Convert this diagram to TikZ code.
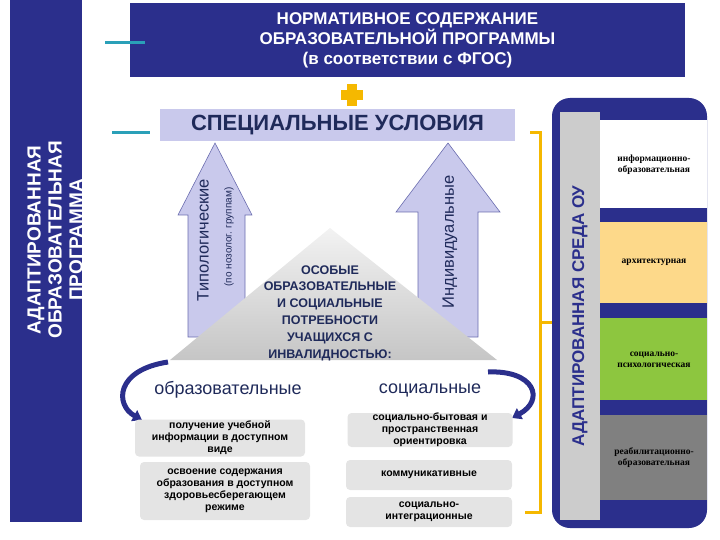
\documentclass[tikz,border=0pt]{standalone}
\usepackage{fontspec}
\setmainfont{Liberation Sans}
\newfontfamily\serifb{Liberation Serif}
\usetikzlibrary{arrows.meta,shapes.arrows}
\definecolor{navy}{HTML}{2B2F8C}
\definecolor{dnavy}{HTML}{1F2A5A}
\definecolor{lav}{HTML}{C9C9EC}
\definecolor{teal}{HTML}{2AA0B8}
\definecolor{gold}{HTML}{F5B800}
\definecolor{boxg}{HTML}{E4E4E4}
\definecolor{sgreen}{HTML}{8DC63F}
\definecolor{syel}{HTML}{FDD98A}
\begin{document}
\begin{tikzpicture}[x=1pt,y=-1pt,
  gbox/.style={fill=boxg,rounded corners=4pt,text=black,font=\bfseries\fontsize{10.5}{12}\selectfont,align=center,inner sep=0pt},
  sect/.style={font=\serifb\bfseries\fontsize{9.5}{11}\selectfont,align=center,text=black},
  upar/.style={fill=lav,draw=navy!70,line width=0.6pt}]
\useasboundingbox (0,0) rectangle (720,540);
% left panel
\fill[navy] (10,0) rectangle (82,522);
\node[rotate=90,text=white,font=\bfseries\fontsize{19}{21}\selectfont,align=center] (ltxt) at (55,240) {АДАПТИРОВАННАЯ\\ОБРАЗОВАТЕЛЬНАЯ\\ПРОГРАММА};
% top banner
\node[fill=navy,minimum width=555,minimum height=74,inner sep=0pt,text=white,font=\bfseries\fontsize{17}{20}\selectfont,align=center] (top) at (407.5,40) {НОРМАТИВНОЕ СОДЕРЖАНИЕ\\ОБРАЗОВАТЕЛЬНОЙ ПРОГРАММЫ\\(в соответствии с ФГОС)};
\coordinate (c1a) at (105,43); \coordinate (c1b) at (145,43);
\draw[teal,line width=3pt] (c1a) -- (c1b);
\coordinate (c2a) at (112,133); \coordinate (c2b) at (150,133);
\draw[teal,line width=3pt] (c2a) -- (c2b);
% plus
\fill[gold] (347,84) rectangle (357,106);
\fill[gold] (341,90) rectangle (363,100);
% special conditions
\node[fill=lav,minimum width=355,minimum height=32,inner sep=0pt,text=dnavy,font=\bfseries\fontsize{22}{24}\selectfont] (spec) at (337.5,125) {СПЕЦИАЛЬНЫЕ УСЛОВИЯ};
% up arrows
\draw[upar] (188,337) -- (188,215) -- (178,215) -- (215,143) -- (252,215) -- (245,215) -- (245,337) -- cycle;
\draw[upar] (418,337) -- (418,212) -- (396,212) -- (448,143) -- (500,212) -- (478,212) -- (478,337) -- cycle;
\node[rotate=90,text=dnavy,font=\fontsize{16.5}{18}\selectfont] (typ) at (203,240) {Типологические};
\node[rotate=90,text=dnavy,font=\fontsize{10}{11}\selectfont] (noz) at (229,237) {(по нозолог. группам)};
\node[rotate=90,text=dnavy,font=\fontsize{16.5}{18}\selectfont] (ind) at (450,242) {Индивидуальные};
% triangle
\shade[top color=white!90!gray,bottom color=gray!45] (330,228) -- (497,360) -- (170,360) -- cycle;
\node[text=dnavy,font=\bfseries\fontsize{12.5}{16.8}\selectfont,align=center] (needs) at (330,313) {ОСОБЫЕ\\ОБРАЗОВАТЕЛЬНЫЕ\\И СОЦИАЛЬНЫЕ\\ПОТРЕБНОСТИ\\УЧАЩИХСЯ С\\ИНВАЛИДНОСТЬЮ:};
\node[text=dnavy,font=\fontsize{18}{20}\selectfont] (obr) at (228,390) {образовательные};
\node[text=dnavy,font=\fontsize{18}{20}\selectfont] (soc) at (430,390) {социальные};
\coordinate (la) at (168,362); \coordinate (lb) at (142,420);
\draw[navy,line width=5pt,-{Triangle[length=9pt,width=12pt]}] (la) .. controls (115,370) and (115,405) .. (lb);
\coordinate (ra) at (488,372); \coordinate (rb) at (512,418);
\draw[navy,line width=5pt,-{Triangle[length=9pt,width=12pt]}] (ra) .. controls (535,370) and (545,400) .. (rb);
% boxes
\node[gbox,minimum width=170,minimum height=37] (b1) at (220,438) {получение учебной\\информации в доступном\\виде};
\node[gbox,minimum width=170,minimum height=58] (b2) at (225,491) {освоение содержания\\образования в доступном\\здоровьесберегающем\\режиме};
\node[gbox,minimum width=165,minimum height=34] (b3) at (430,430) {социально-бытовая и\\пространственная\\ориентировка};
\node[gbox,minimum width=166,minimum height=30] (b4) at (429,475) {коммуникативные};
\node[gbox,minimum width=166,minimum height=30] (b5) at (429,512) {социально-\\интеграционные};
% gold bracket
\draw[gold,line width=3pt] (530,133) -- (540,133) -- (540,512) -- (525,512);
\coordinate (gm) at (540,322); \coordinate (gn) at (560,322);
\draw[gold,line width=3pt] (gm) -- (gn);
% right panel
\fill[navy,rounded corners=18pt] (552,98) rectangle (707,528);
\fill[gray!40] (560,112) rectangle (600,520);
\node[rotate=90,text=navy,font=\bfseries\fontsize{17}{18}\selectfont] (sreda) at (580,316) {АДАПТИРОВАННАЯ СРЕДА ОУ};
\fill[white] (600,120) rectangle (707,208);
\fill[syel] (600,222) rectangle (707,303);
\fill[sgreen] (600,318) rectangle (707,400);
\fill[gray] (600,415) rectangle (707,500);
\node[sect] (s1) at (654,165) {информационно-\\образовательная};
\node[sect] (s2) at (654,262) {архитектурная};
\node[sect] (s3) at (654,360) {социально-\\психологическая};
\node[sect] (s4) at (654,458) {реабилитационно-\\образовательная};
\end{tikzpicture}
\end{document}
